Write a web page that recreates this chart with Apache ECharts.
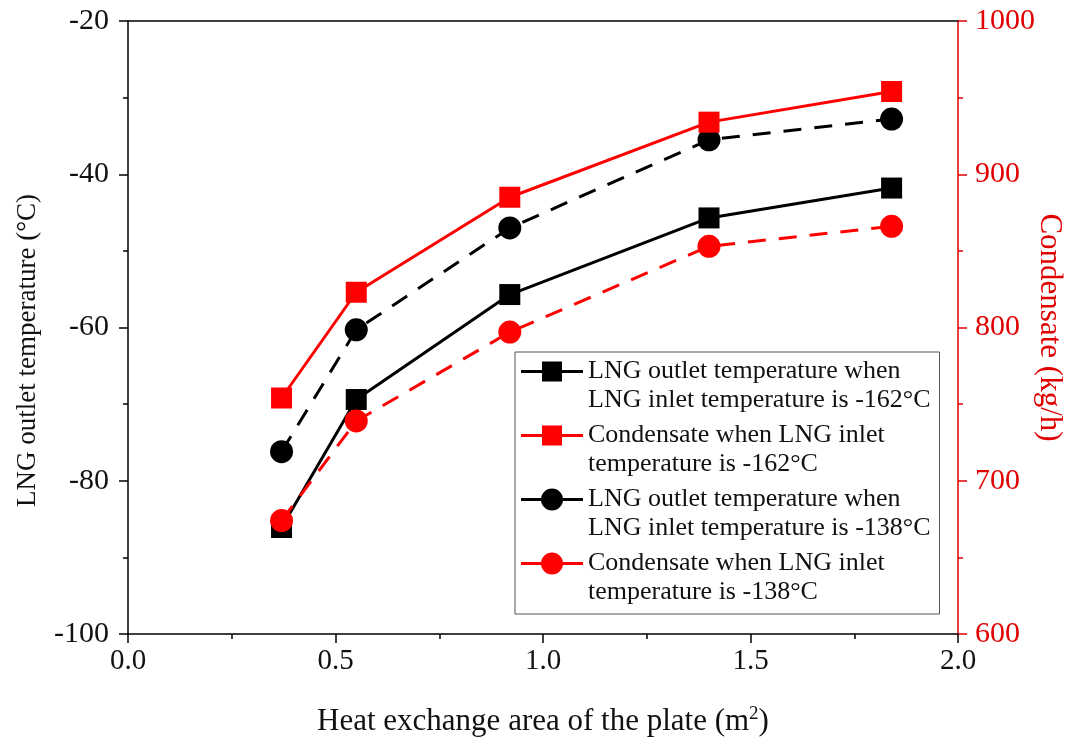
<!DOCTYPE html>
<html>
<head>
<meta charset="utf-8">
<script src="https://cdn.jsdelivr.net/npm/echarts@6/dist/echarts.min.js"></script>
<style>
  html, body { margin: 0; padding: 0; background: #fff; }
  #chart { width: 1079px; height: 747px; }
</style>
</head>
<body>
<div id="chart"></div>
<script>
// Plate heat exchange area (m²)
const plateArea = [0.37, 0.55, 0.92, 1.40, 1.84];
// LNG outlet temperature (°C), inlet at -162 °C
const outletTemp162 = [-86.1, -69.4, -55.7, -45.7, -41.8];
// Condensate (kg/h), inlet at -162 °C
const condensate162 = [754, 823, 885, 934, 954];
// LNG outlet temperature (°C), inlet at -138 °C
const outletTemp138 = [-76.2, -60.3, -47.0, -35.5, -32.8];
// Condensate (kg/h), inlet at -138 °C
const condensate138 = [674, 739, 797, 853, 866];

const seriesNames = [
  'LNG outlet temperature when\nLNG inlet temperature is -162°C',
  'Condensate when LNG inlet\ntemperature is -162°C',
  'LNG outlet temperature when\nLNG inlet temperature is -138°C',
  'Condensate when LNG inlet\ntemperature is -138°C'
];

const FONT = '"Liberation Serif", "Times New Roman", serif';
const BLACK = '#000000';
const RED = '#ff0000';
const AXIS_RED = '#e00000';

const pairs = (xs, ys) => xs.map((x, i) => [x, ys[i]]);

// Legend keys: a short line with the marker, sitting on the first text line.
// The box is 62 x 58; two corner points fix the key's extent.
const KEY_BOX = 'M0 0 L0 0 Z M62 58 L62 58 Z ';
const KEY_LINE = 'M0 13 L62 13 L62 16 L0 16 Z ';
const squareKey = 'path://' + KEY_BOX + KEY_LINE + 'M21 4.5 L41 4.5 L41 24.5 L21 24.5 Z';
const circleKey = 'path://' + KEY_BOX + KEY_LINE + 'M20 14.5 A11 11 0 1 1 42 14.5 A11 11 0 1 1 20 14.5 Z';

const chart = echarts.init(document.getElementById('chart'), null, { renderer: 'canvas' });

const tick = color => ({ show: true, inside: false, length: 9, lineStyle: { color, width: 1.5 } });
const minorTick = color => ({ show: true, splitNumber: 2, length: 5, lineStyle: { color, width: 1.5 } });

chart.setOption({
  animation: false,
  backgroundColor: '#ffffff',
  grid: { left: 128, right: 121, top: 21, bottom: 113, containLabel: false, outerBoundsMode: 'none' },
  legend: {
    orient: 'vertical',
    left: 515,
    top: 352,
    itemWidth: 62,
    itemHeight: 58,
    itemGap: 6,
    padding: [5, 9, 7, 6],
    borderColor: '#555',
    borderWidth: 1,
    textStyle: {
      fontFamily: FONT,
      fontSize: 26,
      color: '#111',
      lineHeight: 29
    },
    data: [
      { name: seriesNames[0], icon: squareKey },
      { name: seriesNames[1], icon: squareKey },
      { name: seriesNames[2], icon: circleKey },
      { name: seriesNames[3], icon: circleKey }
    ]
  },
  xAxis: [
    {
      type: 'value',
      position: 'bottom',
      min: 0, max: 2, interval: 0.5,
      name: '{n|Heat exchange area of the plate (m}{s|2}{n|)}',
      nameLocation: 'middle',
      nameGap: 71,
      nameTextStyle: {
        rich: {
          n: { fontFamily: FONT, fontSize: 31, color: '#111', lineHeight: 34 },
          s: { fontFamily: FONT, fontSize: 19, color: '#111', lineHeight: 34, verticalAlign: 'top', padding: [0, 0, 13, 0] }
        }
      },
      axisLine: { show: true, onZero: false, lineStyle: { color: BLACK, width: 1.5 } },
      axisTick: tick(BLACK),
      minorTick: minorTick(BLACK),
      axisLabel: {
        fontFamily: FONT, fontSize: 29, color: '#111', margin: 13,
        formatter: v => v.toFixed(1)
      },
      splitLine: { show: false }
    },
    {
      type: 'value',
      position: 'top',
      min: 0, max: 2,
      axisLine: { show: true, onZero: false, lineStyle: { color: BLACK, width: 1.5 } },
      axisTick: { show: false },
      axisLabel: { show: false },
      splitLine: { show: false }
    }
  ],
  yAxis: [
    {
      type: 'value',
      position: 'left',
      min: -100, max: -20, interval: 20,
      name: 'LNG outlet temperature (°C)',
      nameLocation: 'middle',
      nameGap: 87,
      // extra trailing space moves the rotated title a little lower
      nameTextStyle: { fontFamily: FONT, fontSize: 27, color: '#111', padding: [0, 46, 0, 0] },
      axisLine: { show: true, onZero: false, lineStyle: { color: BLACK, width: 1.5 } },
      axisTick: tick(BLACK),
      minorTick: minorTick(BLACK),
      axisLabel: { fontFamily: FONT, fontSize: 30, color: '#111', margin: 19 },
      splitLine: { show: false }
    },
    {
      type: 'value',
      position: 'right',
      min: 600, max: 1000, interval: 100,
      name: 'Condensate (kg/h)',
      nameLocation: 'middle',
      nameRotate: -90,
      nameGap: 76,
      nameMoveOverlap: false,
      nameTextStyle: { fontFamily: FONT, fontSize: 31, color: AXIS_RED },
      axisLine: { show: true, onZero: false, lineStyle: { color: AXIS_RED, width: 1.5 } },
      axisTick: tick(AXIS_RED),
      minorTick: minorTick(AXIS_RED),
      axisLabel: {
        fontFamily: FONT, fontSize: 30, color: AXIS_RED, margin: 17,
        formatter: v => String(v)
      },
      splitLine: { show: false }
    }
  ],
  series: [
    {
      name: seriesNames[0],
      type: 'line',
      xAxisIndex: 0, yAxisIndex: 0,
      data: pairs(plateArea, outletTemp162),
      symbol: 'rect', symbolSize: 21,
      lineStyle: { color: BLACK, width: 3, type: 'solid' },
      itemStyle: { color: BLACK },
      z: 3
    },
    {
      name: seriesNames[1],
      type: 'line',
      xAxisIndex: 0, yAxisIndex: 1,
      data: pairs(plateArea, condensate162),
      symbol: 'rect', symbolSize: 21,
      lineStyle: { color: RED, width: 3, type: 'solid' },
      itemStyle: { color: RED },
      z: 3
    },
    {
      name: seriesNames[2],
      type: 'line',
      xAxisIndex: 0, yAxisIndex: 0,
      data: pairs(plateArea, outletTemp138),
      symbol: 'circle', symbolSize: 23,
      lineStyle: { color: BLACK, width: 3, type: [18, 13] },
      itemStyle: { color: BLACK },
      z: 2
    },
    {
      name: seriesNames[3],
      type: 'line',
      xAxisIndex: 0, yAxisIndex: 1,
      data: pairs(plateArea, condensate138),
      symbol: 'circle', symbolSize: 23,
      lineStyle: { color: RED, width: 3, type: [18, 13] },
      itemStyle: { color: RED },
      z: 4
    }
  ]
});
</script>
</body>
</html>
